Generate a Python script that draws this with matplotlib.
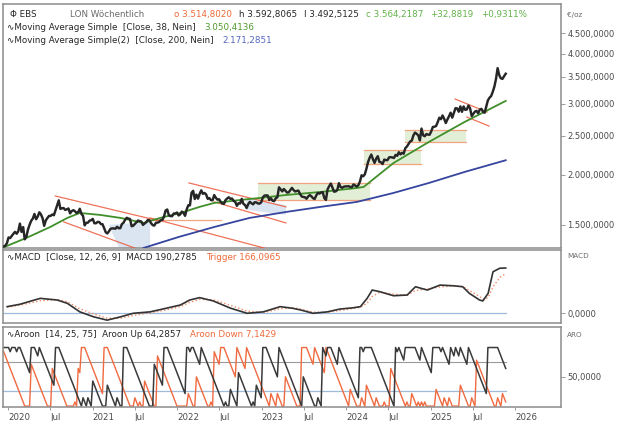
import numpy as np
import pandas as pd
import matplotlib
matplotlib.use("Agg")
import matplotlib.pyplot as plt
import matplotlib.dates as mdates
from matplotlib.ticker import NullLocator, FuncFormatter

# ----------------------------------------------------------------------
# weekly closes, EUR per ounce (first week 2019-12-06, Fridays)
close = [
    1322, 1325, 1330, 1350,                       # 2019 Dec
    1395, 1390, 1408, 1425, 1440,                 # 2020 Jan
    1425, 1445, 1510, 1440,
    1480, 1380, 1400, 1460,
    1500, 1535, 1555, 1596,
    1548, 1571, 1611, 1592, 1558,
    1491, 1538, 1559, 1578,
    1578, 1591, 1584, 1631, 1677,
    1725, 1643, 1648, 1651,
    1633, 1639, 1647, 1601,
    1622, 1631, 1621, 1604, 1613,
    1644, 1596, 1578, 1495,
    1517, 1518, 1535, 1540,
    1551, 1513, 1513, 1525, 1524,                 # 2021 Jan
    1506, 1505, 1472, 1437,
    1427, 1445, 1466, 1469,
    1469, 1466, 1483, 1470, 1471,
    1506, 1518, 1544, 1561,
    1554, 1550, 1487, 1492,
    1507, 1522, 1537, 1531, 1528,
    1499, 1510, 1522, 1542,
    1539, 1514, 1497, 1493,
    1517, 1519, 1524, 1540, 1542,
    1573, 1628, 1637, 1583,
    1576, 1576, 1600, 1600, 1609,
    1582, 1592, 1618, 1606,                       # 2022 Jan
    1579, 1638, 1677, 1676,
    1802, 1822, 1738, 1783,
    1742, 1790, 1827, 1791, 1800,
    1785, 1740, 1748, 1727,
    1726, 1778, 1751, 1732,
    1736, 1711, 1694, 1691, 1728,
    1744, 1756, 1740, 1743,
    1720, 1710, 1672, 1697, 1694,
    1740, 1691, 1680, 1651,
    1688, 1711, 1697, 1686,
    1707, 1705, 1695, 1693, 1705,
    1753, 1773, 1775, 1774,                       # 2023 Jan
    1728, 1746, 1722, 1717,
    1746, 1756, 1859, 1838, 1816,
    1841, 1822, 1804, 1806,
    1830, 1853, 1830, 1815,
    1821, 1824, 1790, 1764, 1759,
    1756, 1741, 1764, 1778,
    1766, 1747, 1738, 1774,
    1801, 1793, 1805, 1808, 1748,
    1730, 1838, 1871, 1900,
    1856, 1813, 1816, 1830,
    1904, 1862, 1854, 1865, 1869,
    1869, 1871, 1863, 1860,                       # 2024 Jan
    1890, 1878, 1867, 1881,
    1922, 1992, 1980, 2003, 2069,
    2149, 2203, 2243, 2184,
    2138, 2191, 2222, 2151, 2145,
    2124, 2180, 2172, 2172,
    2207, 2210, 2206, 2199,
    2239, 2226, 2273, 2245, 2265,
    2254, 2326, 2349, 2382,
    2418, 2429, 2503, 2544,
    2526, 2505, 2432, 2603, 2505,
    2491, 2522, 2514, 2513,
    2561, 2627, 2631, 2641, 2701,                 # 2025 Jan
    2770, 2747, 2806, 2753,
    2687, 2743, 2794, 2851,
    2771, 2849, 2926, 2922,
    2867, 2956, 2865, 2955, 2898,
    2904, 2971, 2924, 2794,
    2832, 2870, 2880, 2842,
    2902, 2914, 2866, 2851, 2952,
    3060, 3106, 3136, 3214,
    3310, 3458, 3680, 3537, 3472,
    3460, 3515, 3564,
]

# moving averages (vertices)
ma38_dates = ["2019-12-16", "2020-03-20", "2020-07-01", "2020-09-13", "2020-11-06",
              "2021-02-02", "2021-05-01", "2021-08-08", "2021-10-20", "2022-01-15",
              "2022-04-08", "2022-06-10", "2022-10-01", "2022-12-24", "2023-04-16",
              "2023-09-13", "2024-02-17", "2024-03-17", "2024-07-24", "2024-12-24",
              "2025-05-27", "2025-08-11", "2025-11-21"]
ma38 = [1321, 1391, 1481, 1560, 1605, 1587, 1560, 1516, 1560, 1605, 1662, 1700,
        1729, 1749, 1779, 1810, 1852, 1863, 2137, 2411, 2703, 2846, 3050]
ma200_dates = ["2021-08-08", "2022-01-08", "2022-06-10", "2022-11-10", "2023-04-16",
               "2023-09-13", "2024-02-17", "2024-07-24", "2024-12-24", "2025-05-27",
               "2025-11-21"]
ma200 = [1313, 1399, 1481, 1560, 1614, 1662, 1710, 1800, 1906, 2030, 2171]

# drawn trend lines (start date, start price, end date, end price)
trend_lines = [
    ("2020-07-23", 1769, "2021-10-19", 1532),
    ("2020-08-28", 1525, "2021-07-01", 1313),
    ("2021-09-06", 1560, "2023-01-12", 1313),
    ("2022-02-21", 1906, "2023-04-16", 1662),
    ("2022-06-10", 1710, "2023-04-16", 1516),
    ("2025-04-16", 3084, "2025-09-01", 2862),
    ("2025-06-06", 2781, "2025-09-10", 2641),
]
support_line = ("2021-09-20", "2022-07-08", 1545)
# consolidation boxes (start, end, low, high)
boxes = [
    ("2022-12-15", "2024-04-12", 1729, 1906),
    ("2024-03-17", "2024-11-20", 2125, 2303),
    ("2024-09-12", "2025-06-03", 2411, 2582),
]
# shaded channel areas (dates, prices)
shade_2021 = (["2021-03-10", "2021-09-06", "2021-09-06", "2021-04-25"],
              [1500, 1520, 1313, 1313])
shade_2022 = (["2022-10-27", "2023-04-16", "2023-04-16", "2022-10-27"],
              [1749, 1680, 1587, 1634])

# MACD panel
macd_dates = ["2019-12-28", "2020-02-21", "2020-05-19", "2020-07-31", "2020-09-13",
              "2020-11-06", "2021-01-05", "2021-03-04", "2021-05-01", "2021-06-25",
              "2021-09-06", "2021-11-18", "2022-01-15", "2022-02-24", "2022-04-08",
              "2022-06-06", "2022-08-18", "2022-10-30", "2023-01-08", "2023-03-22",
              "2023-05-16", "2023-06-18", "2023-08-11", "2023-10-12", "2023-12-06",
              "2024-01-30", "2024-03-03", "2024-04-01", "2024-04-23", "2024-05-26",
              "2024-07-24", "2024-09-21", "2024-10-27", "2024-12-17", "2025-02-10",
              "2025-04-09", "2025-05-19", "2025-06-17", "2025-07-31", "2025-08-14",
              "2025-09-06", "2025-09-27", "2025-10-26", "2025-11-21"]
macd = [27, 37, 62, 55, 41, 5, -16, -30, -16, -1, 5, 21, 34, 55, 65, 51, 21, -1,
        5, 27, 20, 13, -1, 5, 17, 22, 27, 62, 97, 90, 73, 76, 111, 97, 118, 115,
        111, 83, 55, 51, 83, 174, 189, 190]
trigger = [25, 33, 52, 57, 48, 18, -4, -22, -22, -10, 1, 14, 27, 45, 58, 56, 33, 8,
           2, 18, 22, 17, 4, 3, 11, 19, 24, 42, 70, 88, 80, 75, 95, 102, 110, 115,
           112, 95, 70, 58, 65, 110, 150, 166]

price_ticks = [1500, 2000, 2500, 3000, 3500, 4000, 4500]
x_ticks = ["2020-01-01", "2020-07-01", "2021-01-01", "2021-07-01", "2022-01-01",
           "2022-07-01", "2023-01-01", "2023-07-01", "2024-01-01", "2024-07-01",
           "2025-01-01", "2025-07-01", "2026-01-01"]
x_labels = ["2020", "Jul", "2021", "Jul", "2022", "Jul", "2023", "Jul", "2024",
            "Jul", "2025", "Jul", "2026"]

# ----------------------------------------------------------------------
plt.rcParams.update({"font.family": "DejaVu Sans", "font.size": 6.2})
INK, GREY, FRAME = "#262626", "#4a4a4a", "#8c8c8c"
RED, ORANGE, GREEN, BLUE = "#eb5a3c", "#f2a47e", "#3f8f2a", "#36459e"
FS = 6.3

weeks = pd.date_range("2019-12-06", periods=len(close), freq="W-FRI")
c = pd.Series(close, index=weeks, dtype=float)
# Aroon(14) on weekly closes
aroon_up = c.rolling(15, min_periods=1).apply(
    lambda w: 100 * (14 - (len(w) - 1 - np.argmax(w))) / 14, raw=True)
aroon_dn = c.rolling(15, min_periods=1).apply(
    lambda w: 100 * (14 - (len(w) - 1 - np.argmin(w))) / 14, raw=True)

D = lambda s: pd.to_datetime(s)
xlim = (D("2019-12-10"), D("2026-07-18"))

fig = plt.figure(figsize=(6.24, 4.21), dpi=100)
L, W = 3 / 624, 558 / 624
ax = fig.add_axes([L, 1 - 248 / 421, W, 244 / 421])
axm = fig.add_axes([L, 1 - 323 / 421, W, 73 / 421])
axa = fig.add_axes([L, 1 - 407 / 421, W, 80 / 421])


def de_format(v, pos=None):
    s = f"{v:,.4f}"
    return s.replace(",", "X").replace(".", ",").replace("X", ".")


for a in (ax, axm, axa):
    a.set_xlim(*xlim)
    for sp in a.spines.values():
        sp.set_color(FRAME)
        sp.set_linewidth(1.1)
    a.yaxis.tick_right()
    a.tick_params(axis="y", length=3, width=0.6, color=FRAME, pad=1.5,
                  labelsize=6, labelcolor=GREY)
    a.yaxis.set_minor_locator(NullLocator())
    a.yaxis.set_major_formatter(FuncFormatter(de_format))
    a.set_xticks(D(x_ticks))
    a.tick_params(axis="x", length=0, labelbottom=False)

# --- main panel -------------------------------------------------------
ax.set_yscale("log")
ax.set_ylim(1313, 5315)
ax.set_yticks(price_ticks)
ax.yaxis.set_minor_locator(NullLocator())
ax.yaxis.set_major_formatter(FuncFormatter(de_format))

for d0, d1, lo, hi in boxes:
    ax.fill_between(D([d0, d1]), [lo, lo], [hi, hi], color="#e3eed6", lw=0, zorder=1)
    ax.plot(D([d0, d1]), [hi, hi], color=ORANGE, lw=0.9, zorder=2)
    ax.plot(D([d0, d1]), [lo, lo], color=ORANGE, lw=0.9, zorder=2)
for dates, vals in (shade_2021, shade_2022):
    ax.fill(mdates.date2num(D(dates)), vals, color="#dbe5f1", lw=0, zorder=1)
ax.plot(D(support_line[:2]), [support_line[2]] * 2, color=ORANGE, lw=0.9, zorder=2)
for d0, p0, d1, p1 in trend_lines:
    ax.plot(D([d0, d1]), [p0, p1], color=RED, lw=0.9, alpha=0.85, zorder=3)

ax.plot(D(ma200_dates), ma200, color=BLUE, lw=1.3, zorder=4)
ax.plot(D(ma38_dates), ma38, color=GREEN, lw=1.3, zorder=4)
ax.plot(weeks, close, color=INK, lw=1.75, zorder=5)


def header(a, y, parts):
    prev = a.text(parts[0][2], y, parts[0][0], color=parts[0][1], fontsize=FS,
                  transform=a.transAxes, ha="left", va="bottom", zorder=10)
    for txt, col, gap in parts[1:]:
        prev = a.annotate(txt, xy=(1, 0), xycoords=prev, xytext=(gap, 0),
                          textcoords="offset points", color=col, fontsize=FS,
                          ha="left", va="bottom", zorder=10)


CG = "#62b34a"
header(ax, 0.940, [("Φ EBS", INK, 0.012), ("LON Wöchentlich", "#6a6a6a", 24),
                   ("o 3.514,8020", "#ee6a3a", 22), ("h 3.592,8065", INK, 5),
                   ("l 3.492,5125", INK, 5), ("c 3.564,2187", CG, 5),
                   ("+32,8819", CG, 5), ("+0,9311%", CG, 5)])
header(ax, 0.887, [("∿Moving Average Simple  [Close, 38, Nein]", INK, 0.008),
                   ("3.050,4136", "#4f9a2c", 6)])
header(ax, 0.834, [("∿Moving Average Simple(2)  [Close, 200, Nein]", INK, 0.008),
                   ("2.171,2851", "#5566c4", 6)])

# --- MACD panel ---------------------------------------------------------
axm.set_ylim(-42, 266)
axm.set_yticks([0])
axm.plot(weeks[[0, -1]], [0, 0], color="#9fbbdc", lw=0.9)
axm.plot(D(macd_dates), trigger, color="#f08a64", lw=1.0, ls=":")
axm.plot(D(macd_dates), macd, color="#333333", lw=1.2)
header(axm, 0.83, [("∿MACD  [Close, 12, 26, 9]  MACD 190,2785", INK, 0.008),
                   ("Trigger 166,0965", "#ee6a3a", 6)])

# --- Aroon panel --------------------------------------------------------
axa.set_ylim(-1.5, 135)
axa.set_yticks([50])
axa.plot(weeks[[0, -1]], [75, 75], color="#9a9a9a", lw=0.8)
axa.plot(weeks[[0, -1]], [25, 25], color="#9fbbdc", lw=0.9)
axa.plot(weeks, aroon_dn, color="#f06a40", lw=1.0)
axa.plot(weeks, aroon_up, color="#3a3a3a", lw=1.1)
header(axa, 0.85, [("∿Aroon  [14, 25, 75]  Aroon Up 64,2857", INK, 0.008),
                   ("Aroon Down 7,1429", "#ee6a3a", 6)])

axa.tick_params(axis="x", labelbottom=True, length=2, width=0.6, color=FRAME,
                pad=2, labelsize=6.2, labelcolor=GREY)
axa.set_xticklabels(x_labels, ha="left")

# unit labels on the right scale
for y_px, txt in ((15, "€/oz"), (256, "MACD"), (335, "ARO")):
    fig.text(567 / 624, 1 - y_px / 421, txt, fontsize=5.2, color="#6a6a6a",
             ha="left", va="center")

fig.savefig("out.png", dpi=100, facecolor="white")
